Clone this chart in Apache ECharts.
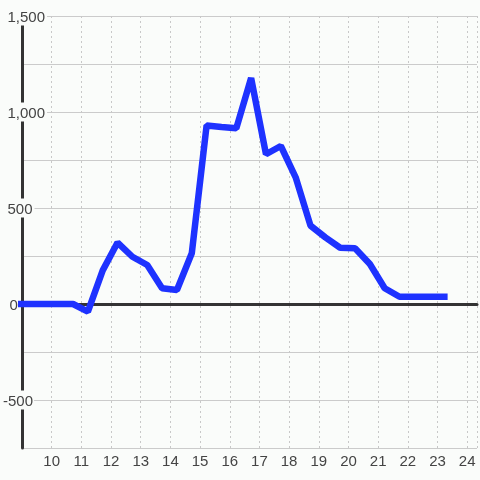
<!DOCTYPE html>
<html>
<head>
<meta charset="utf-8">
<script src="https://cdn.jsdelivr.net/npm/echarts@6/dist/echarts.min.js"></script>
<style>
html,body{margin:0;padding:0;background:#fafcfa;}
#c{width:480px;height:480px;}
</style>
</head>
<body>
<div id="c"></div>
<script>
const xValues = [8.72, 9.22, 9.72, 10.22, 10.72, 11.22, 11.72, 12.22, 12.72, 13.22, 13.72, 14.22, 14.72, 15.22, 15.72, 16.22, 16.72, 17.22, 17.72, 18.22, 18.72, 19.22, 19.72, 20.22, 20.72, 21.22, 21.72, 22.22, 22.72, 23.34];
const yValues = [0, 0, 0, 0, 0, -40, 175, 320, 246, 203, 82, 73, 264, 930, 922, 915, 1177, 780, 823, 660, 408, 347, 293, 290, 208, 82, 38, 38, 38, 38];
const yTickLabels = {1500: '1,500', 1000: '1,000', 500: '500', 0: '0', '-500': '-500'};
const xTickLabels = [10, 11, 12, 13, 14, 15, 16, 17, 18, 19, 20, 21, 22, 23, 24];

const data = xValues.map((x, i) => [x, yValues[i]]);
const labelKey = {1500: 'b', 1000: 'b', 500: 'b', 0: 'z', '-500': 'n'};

const chart = echarts.init(document.getElementById('c'), null, {renderer: 'canvas'});
const font = 'Liberation Sans, Arial, sans-serif';
const bg = '#fafcfa';
chart.setOption({
  backgroundColor: bg,
  animation: false,
  grid: {left: 20, right: 0, top: 16, bottom: 32, containLabel: false},
  xAxis: [{
    type: 'value', min: 9, max: 24.33, interval: 1,
    axisLine: {show: false, onZero: false},
    axisTick: {show: false},
    axisLabel: {
      margin: 6, fontSize: 15, color: '#444', fontFamily: font,
      formatter: v => xTickLabels.indexOf(v) >= 0 ? String(v) : ''
    },
    splitLine: {show: true, lineStyle: {color: '#c8c8c8', type: [2, 3], width: 1}}
  }, {
    type: 'value', min: 9, max: 24.33, interval: 1, position: 'bottom',
    axisLine: {show: true, onZero: true, lineStyle: {color: '#333', width: 3}},
    axisTick: {show: false}, axisLabel: {show: false}, splitLine: {show: false}
  }],
  yAxis: {
    type: 'value', min: -750, max: 1500, interval: 250,
    axisLine: {show: true, onZero: false, lineStyle: {color: '#333', width: 3}},
    axisTick: {show: false},
    axisLabel: {
      inside: false, align: 'left', margin: 19, verticalAlign: 'middle',
      fontSize: 15, color: '#444', fontFamily: font,
      formatter: v => {
        const t = yTickLabels[v];
        if (t === undefined) return '';
        return '{' + labelKey[v] + '|' + t + '}';
      },
      rich: {
        b: {fontSize: 15, color: '#444', fontFamily: font, backgroundColor: bg, padding: [4, 2, 0, 4.5], lineHeight: 14},
        z: {fontSize: 15, color: '#444', fontFamily: font, backgroundColor: bg, padding: [4, 2, 0, 6.5], lineHeight: 14},
        n: {fontSize: 15, color: '#444', fontFamily: font, backgroundColor: bg, padding: [4, 1, 0, 0], lineHeight: 14}
      }
    },
    splitLine: {show: true, lineStyle: {color: '#cbcbcb', width: 1}}
  },
  series: [{
    type: 'line', xAxisIndex: 0, data: data,
    showSymbol: false, symbol: 'none',
    lineStyle: {color: '#1e32ff', width: 6.5, join: 'bevel', cap: 'butt'},
    z: 5
  }]
});
</script>
</body>
</html>
